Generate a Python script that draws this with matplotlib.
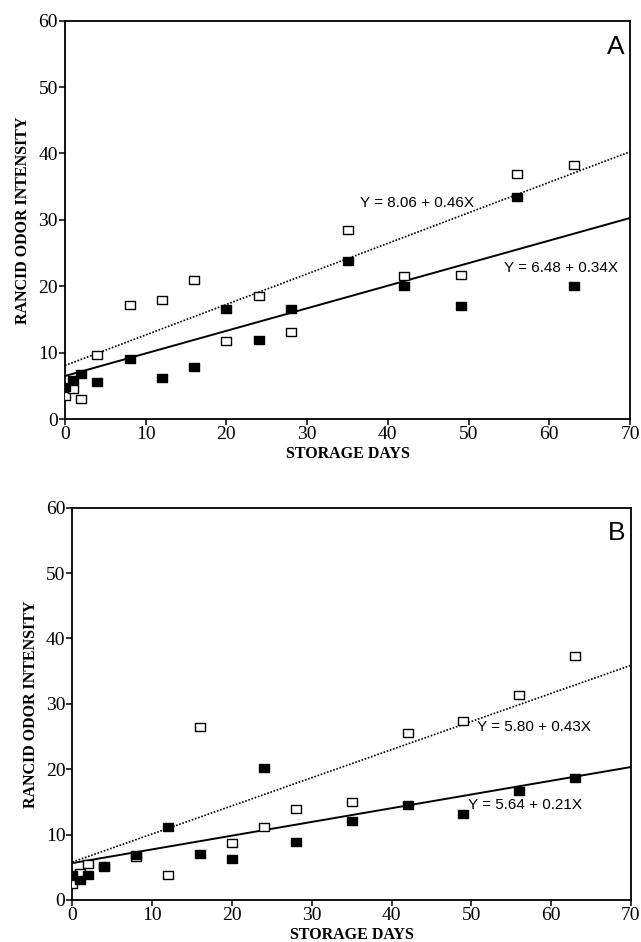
import numpy as np
import matplotlib
matplotlib.use("agg")
import matplotlib.pyplot as plt

# storage days
days = [0, 1, 2, 4, 8, 12, 16, 20, 24, 28, 35, 42, 49, 56, 63]

# panel A
a_filled = [4.8, 5.9, 6.8, 5.6, 9.1, 6.2, 7.8, 16.5, 11.9, 16.6, 23.8, 20.0, 17.0, 33.5, 20.1]
a_open = [3.5, 4.5, 3.0, 9.7, 17.2, 18.0, 21.0, 11.7, 18.6, 13.1, 28.4, 21.6, 21.7, 36.9, 38.3]
a_fit_open = (8.06, 0.46)
a_fit_filled = (6.48, 0.34)

# panel B
b_filled = [3.9, 3.0, 3.8, 5.2, 6.9, 11.1, 7.0, 6.2, 20.2, 8.9, 12.1, 14.6, 13.2, 16.6, 18.7]
b_open = [2.4, 4.2, 5.5, 5.1, 6.6, 3.9, 26.4, 8.7, 11.1, 13.9, 15.0, 25.6, 27.4, 31.4, 37.3]
b_fit_open = (5.80, 0.43)
b_fit_filled = (5.64, 0.21)

SERIF = ["Liberation Serif", "DejaVu Serif"]
SANS = ["Liberation Sans", "DejaVu Sans"]

# slightly flat square, like the scanned markers
RECT = [(-1, -0.78), (1, -0.78), (1, 0.78), (-1, 0.78), (-1, -0.78)]

fig = plt.figure(figsize=(6.41, 9.42), dpi=100)
W, H = 641.0, 942.0


def panel(rect, filled, opened, fit_open, fit_filled, letter, eq_open_pos, eq_filled_pos):
    l, t, r, b = rect
    ax = fig.add_axes([l / W, 1 - b / H, (r - l) / W, (b - t) / H])
    xs = np.array([0, 70])
    ax.plot(xs, fit_open[0] + fit_open[1] * xs, color="black", lw=1.2,
            linestyle=(0, (1, 1)), zorder=2)
    ax.plot(xs, fit_filled[0] + fit_filled[1] * xs, color="black", lw=1.4, zorder=2)
    ax.plot(days, opened, marker=RECT, ls="none", ms=6.5, mfc="white", mec="black",
            mew=1.0, zorder=3)
    ax.plot(days, filled, marker=RECT, ls="none", ms=6.5, mfc="black", mec="black",
            zorder=4)
    ax.set_xlim(0, 70)
    ax.set_ylim(0, 60)
    ax.set_xticks(range(0, 71, 10))
    ax.set_yticks(range(0, 61, 10))
    ax.tick_params(direction="out", length=4, width=1.1, pad=1, labelsize=14)
    for lab in ax.get_xticklabels() + ax.get_yticklabels():
        lab.set_family(SERIF)
    for s in ax.spines.values():
        s.set_linewidth(1.3)
    ax.set_xlabel("STORAGE DAYS", family=SERIF, fontweight="bold", fontsize=11.5, labelpad=2)
    ax.set_ylabel("RANCID ODOR INTENSITY", family=SERIF, fontweight="bold", fontsize=11.5,
                  labelpad=5)
    ax.text(0.99, 0.965, letter, transform=ax.transAxes, ha="right", va="top",
            family=SANS, fontsize=19)
    ax.text(eq_open_pos[0], eq_open_pos[1],
            f"Y = {fit_open[0]:.2f} + {fit_open[1]:.2f}X",
            family=SANS, fontsize=11, va="center", ha="left")
    ax.text(eq_filled_pos[0], eq_filled_pos[1],
            f"Y = {fit_filled[0]:.2f} + {fit_filled[1]:.2f}X",
            family=SANS, fontsize=11, va="center", ha="left")
    return ax


panel((65, 20.7, 630, 419), a_filled, a_open, a_fit_open, a_fit_filled, "A",
      (36.5, 32.5), (54.4, 22.7))
panel((72.3, 507.7, 631, 900), b_filled, b_open, b_fit_open, b_fit_filled, "B",
      (50.7, 26.5), (49.6, 14.5))

fig.savefig("out.png", dpi=100)
